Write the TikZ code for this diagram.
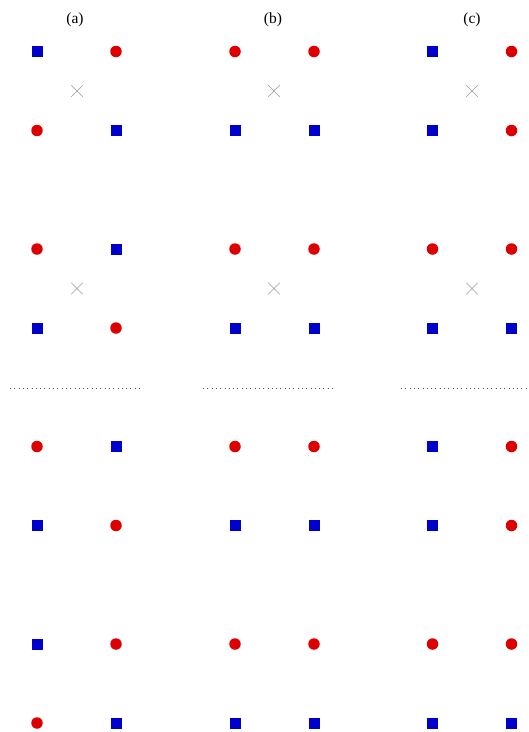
\documentclass[tikz,border=0pt]{standalone}
\usepackage{fontspec}
\setmainfont{Liberation Serif}
\usepackage{tikz}
\usetikzlibrary{shapes.misc}
\definecolor{ptred}{RGB}{222,0,0}
\definecolor{ptblue}{RGB}{0,0,205}
\tikzset{
  redpt/.style={circle,fill=ptred,inner sep=0pt,minimum size=11.5pt},
  bluept/.style={rectangle,fill=ptblue,inner sep=0pt,minimum size=11pt},
  midx/.style={cross out,draw=gray!80,line width=0.5pt,inner sep=0pt,minimum size=11pt},
  sepline/.style={gray!60!black,line width=0.8pt,dash pattern=on 0.8pt off 3.5pt},
  panel/.style={font=\fontsize{15.5}{18}\selectfont}
}
\begin{document}
\begin{tikzpicture}[x=1pt,y=-1pt]
\useasboundingbox (0,0) rectangle (529,732);
% panel titles
\node[panel] (ta) at (75,20) {(a)};
\node[panel] (tb) at (273,20) {(b)};
\node[panel] (tc) at (472,20) {(c)};
% (a)
\foreach \y/\p/\q [count=\i] in {51.5/bluept/redpt,130.5/redpt/bluept,249/redpt/bluept,328/bluept/redpt,
  446.5/redpt/bluept,525.5/bluept/redpt,644/bluept/redpt,723/redpt/bluept}{
  \node[\p] (a\i l) at (37,\y) {}; \node[\q] (a\i r) at (116,\y) {};}
% (b)
\foreach \y/\p/\q [count=\i] in {51.5/redpt/redpt,130.5/bluept/bluept,249/redpt/redpt,328/bluept/bluept,
  446.5/redpt/redpt,525.5/bluept/bluept,644/redpt/redpt,723/bluept/bluept}{
  \node[\p] (b\i l) at (235,\y) {}; \node[\q] (b\i r) at (314,\y) {};}
% (c)
\foreach \y/\p/\q [count=\i] in {51.5/bluept/redpt,130.5/bluept/redpt,249/redpt/redpt,328/bluept/bluept,
  446.5/bluept/redpt,525.5/bluept/redpt,644/redpt/redpt,723/bluept/bluept}{
  \node[\p] (c\i l) at (432.5,\y) {}; \node[\q] (c\i r) at (511.5,\y) {};}
% centres
\foreach \c/\x in {a/77,b/274,c/472}{
  \node[midx] (\c x1) at (\x,91) {};
  \node[midx] (\c x2) at (\x,288.5) {};}
% separators
\coordinate (sa1) at (10,388.5); \coordinate (sa2) at (141,388.5);
\coordinate (sb1) at (203,388.5); \coordinate (sb2) at (336,388.5);
\coordinate (sc1) at (401,388.5); \coordinate (sc2) at (529,388.5);
\draw[sepline] (sa1) -- (sa2);
\draw[sepline] (sb1) -- (sb2);
\draw[sepline] (sc1) -- (sc2);
\end{tikzpicture}
\end{document}
